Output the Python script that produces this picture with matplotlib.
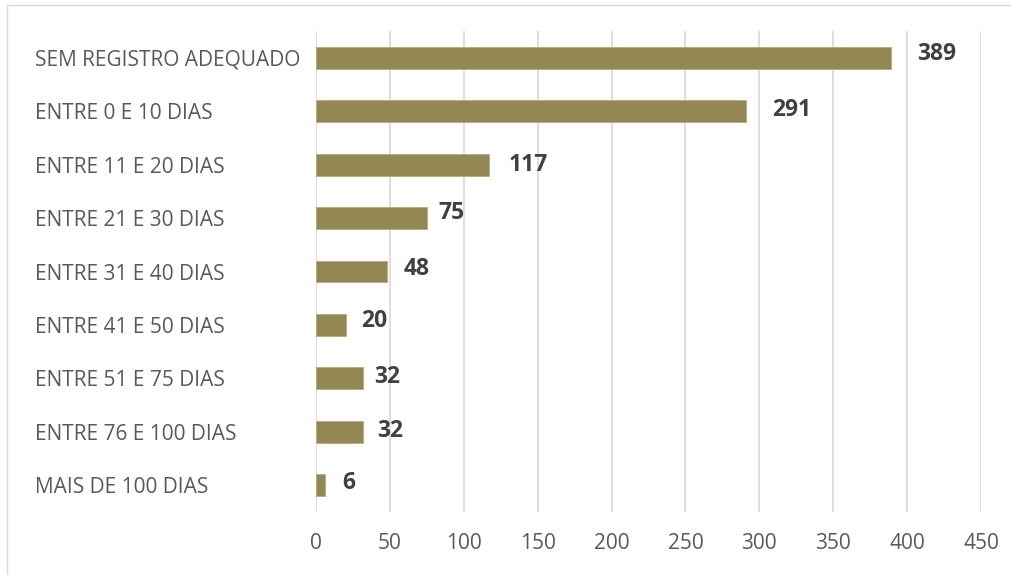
import matplotlib.pyplot as plt
from matplotlib.patches import Rectangle

categorias = [
    "SEM REGISTRO ADEQUADO",
    "ENTRE 0 E 10 DIAS",
    "ENTRE 11 E 20 DIAS",
    "ENTRE 21 E 30 DIAS",
    "ENTRE 31 E 40 DIAS",
    "ENTRE 41 E 50 DIAS",
    "ENTRE 51 E 75 DIAS",
    "ENTRE 76 E 100 DIAS",
    "MAIS DE 100 DIAS",
]
valores = [389, 291, 117, 75, 48, 20, 32, 32, 6]
ticks_x = [0, 50, 100, 150, 200, 250, 300, 350, 400, 450]

# manual nudges of the value labels (pixels right / up from the bar end)
nudge_x = [26, 26, 20, 12, 17, 16, 11, 14, 17]
nudge_y = [4, 1, 0, 5, 3, 4, 1, 1, 2]

plt.rcParams["font.family"] = ["Open Sans", "DejaVu Sans"]

fig = plt.figure(figsize=(10.11, 5.75), dpi=100)
ax = fig.add_axes([0.3126, 0.1095, 0.6577, 0.8365])

y = list(range(len(categorias)))
ax.barh(y, valores, height=0.41, color="#938752", edgecolor="#b3aa80", linewidth=0.6, zorder=3)
for yi, v, dx, dy in zip(y, valores, nudge_x, nudge_y):
    ax.annotate(str(v), (v, yi), xytext=(dx * 0.72, dy * 0.72), textcoords="offset points",
                va="center", ha="left", fontsize=16.5, fontweight="bold", color="#404040")

ax.set_ylim(len(categorias) - 0.5, -0.5)
ax.set_xlim(0, 450)
ax.set_xticks(ticks_x)
ax.set_yticks(y)
ax.set_yticklabels(categorias, ha="left")
ax.tick_params(axis="y", length=0, pad=202, labelsize=15, labelcolor="#595959")
ax.tick_params(axis="x", length=0, pad=15, labelsize=15, labelcolor="#595959")
ax.grid(axis="x", color="#d9d9d9", linewidth=1.2, zorder=0)
for s in ax.spines.values():
    s.set_visible(False)

# thin frame around the chart area
fig.patches.append(Rectangle((7 / 1011, -0.1), 1.2, 1 - 5 / 575 + 0.1,
                             transform=fig.transFigure, fill=False,
                             edgecolor="#d9d9d9", linewidth=1))

fig.savefig("out.png", dpi=100)
